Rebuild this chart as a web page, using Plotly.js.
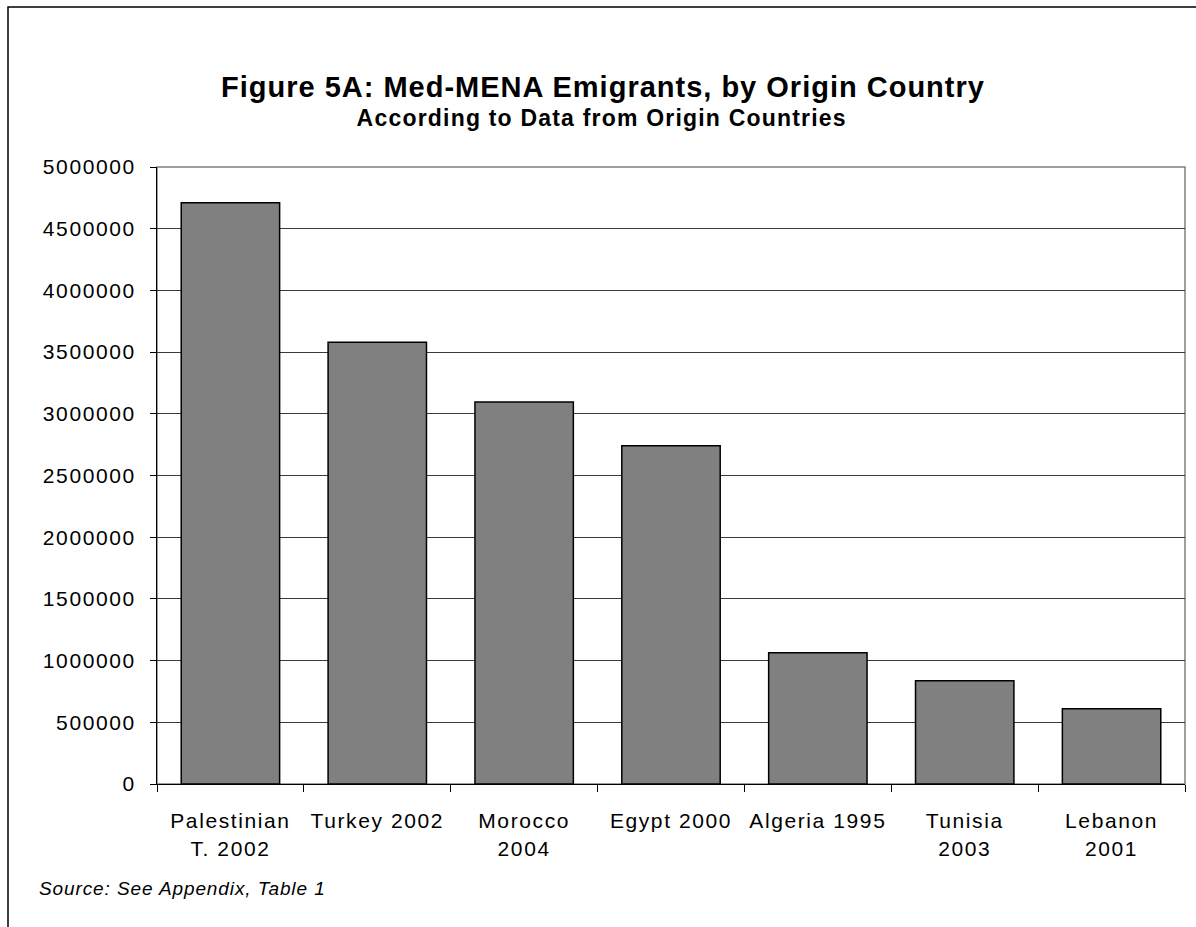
<!DOCTYPE html>
<html>
<head>
<meta charset="utf-8">
<script src="https://cdn.plot.ly/plotly-3.0.1.min.js"></script>
<style>
html,body{margin:0;padding:0;background:#fff;}
#chart{width:1196px;height:927px;}
#chart .xtick text, #chart .ytick text{letter-spacing:1.6px;}
#chart .annotation[data-index="0"] text{letter-spacing:1px;}
#chart .annotation[data-index="1"] text{letter-spacing:1.2px;}
#chart .annotation[data-index="2"] text{letter-spacing:0.9px;}
</style>
</head>
<body>
<div id="chart"></div>
<script>
const categories = ["Palestinian<br>T. 2002", "Turkey 2002", "Morocco<br>2004", "Egypt 2000", "Algeria 1995", "Tunisia<br>2003", "Lebanon<br>2001"];
const emigrants = [4710000, 3580000, 3095000, 2742000, 1064000, 837000, 610000];
const yTicks = [0, 500000, 1000000, 1500000, 2000000, 2500000, 3000000, 3500000, 4000000, 4500000, 5000000];
const titleText = "Figure 5A: Med-MENA Emigrants, by Origin Country";
const subtitleText = "According to Data from Origin Countries";
const sourceText = "Source: See Appendix, Table 1";

const W = 1196, H = 927;
const L = 157, R = 11, T = 167, B = 143;
const pw = W - L - R, ph = H - T - B;
const px = x => (x - L) / pw;
const py = y => (H - B - y) / ph;

const trace = {
  type: 'bar',
  x: categories,
  y: emigrants,
  marker: {color: '#808080', line: {color: '#000000', width: 1.5}},
  hoverinfo: 'x+y'
};

const layout = {
  width: W, height: H,
  margin: {l: L, r: R, t: T, b: B, pad: 0},
  paper_bgcolor: '#ffffff',
  plot_bgcolor: '#ffffff',
  showlegend: false,
  bargap: 0.33,
  font: {family: '"Liberation Sans", Arial, sans-serif', color: '#000000', size: 21},
  xaxis: {
    type: 'category',
    showgrid: false,
    showline: true, linecolor: '#000000', linewidth: 1,
    ticks: 'outside', tickson: 'boundaries', ticklen: 7, tickcolor: '#000000', tickwidth: 1,
    tickfont: {size: 21},
    ticklabelstandoff: 18,
    zeroline: false
  },
  yaxis: {
    range: [0, 5000000],
    tickvals: yTicks,
    ticktext: yTicks.map(v => String(v)),
    showgrid: true, gridcolor: '#3a3a3a', gridwidth: 1,
    showline: true, linecolor: '#000000', linewidth: 1,
    ticks: 'outside', ticklen: 6, tickcolor: '#000000', tickwidth: 1,
    tickfont: {size: 21},
    ticklabelstandoff: 10,
    zeroline: false
  },
  shapes: [
    {type: 'rect', xref: 'paper', yref: 'paper', x0: 0, x1: 1, y0: 0, y1: 1,
     line: {color: '#808080', width: 1.5}, layer: 'below'},
    {type: 'path', xref: 'paper', yref: 'paper',
     path: `M ${px(8)} ${py(935)} L ${px(8)} ${py(7)} L ${px(1205)} ${py(7)}`,
     line: {color: '#000000', width: 1.5}}
  ],
  annotations: [
    {text: '<b>' + titleText + '</b>', xref: 'paper', yref: 'paper', x: px(603), y: py(87),
     xanchor: 'center', yanchor: 'middle', showarrow: false, font: {size: 29}},
    {text: '<b>' + subtitleText + '</b>', xref: 'paper', yref: 'paper', x: px(601), y: py(118),
     xanchor: 'center', yanchor: 'middle', showarrow: false, font: {size: 23}},
    {text: '<i>' + sourceText + '</i>', xref: 'paper', yref: 'paper', x: px(50), y: py(888),
     xanchor: 'left', yanchor: 'middle', showarrow: false, font: {size: 19}}
  ]
};

Plotly.newPlot('chart', [trace], layout, {displayModeBar: false, staticPlot: true});
</script>
</body>
</html>
